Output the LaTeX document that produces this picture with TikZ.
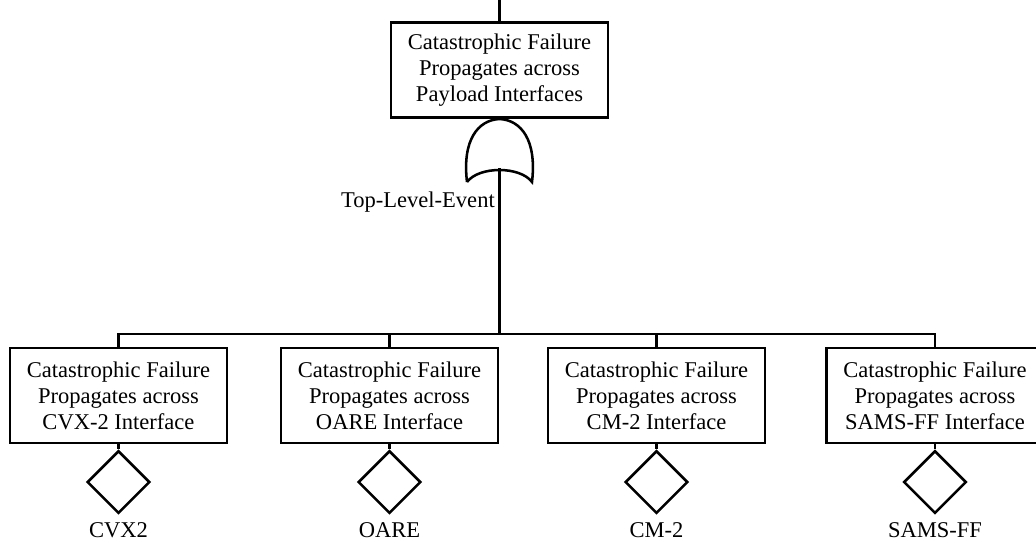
\documentclass[tikz,border=0pt]{standalone}
\usepackage{fontspec}
\setmainfont{Liberation Serif}
\usetikzlibrary{shapes.geometric}
\begin{document}
\begin{tikzpicture}[x=0.75pt,y=-0.75pt,line width=1.9pt,
  evbox/.style={draw,rectangle,minimum width=163pt,minimum height=71pt,align=center,inner sep=0pt,
    font=\fontsize{16.9}{19.5}\selectfont},
  basic/.style={draw,diamond,aspect=1,minimum size=47pt,inner sep=0pt},
  lbl/.style={inner sep=0pt,font=\fontsize{16.9}{19.5}\selectfont}]
\clip (0,0) rectangle (1036,543);
\useasboundingbox (0,0) rectangle (1036,543);
% top event
\node[evbox] (top) at (499.5,70) {Catastrophic Failure\\Propagates across\\Payload Interfaces};
\coordinate (topin) at (499.5,0);
\draw (topin) -- (top.north);
% OR gate
\coordinate (gate) at (499.5,119);
\coordinate (gatebot) at (499.5,168);
\draw (467,182) .. controls (462,140) and (478,120) .. (gate)
  .. controls (521,120) and (537,140) .. (532,182)
  .. controls (520,166) and (479,166) .. (467,182);
\node[lbl,anchor=base east] (tle) at (496,207) {Top-Level-Event};
% bus
\coordinate (bus) at (499.5,334);
\draw (gatebot) -- (bus);
% children
\node[evbox] (b1) at (118.5,395.5) {Catastrophic Failure\\Propagates across\\CVX-2 Interface};
\node[evbox] (b2) at (389.5,395.5) {Catastrophic Failure\\Propagates across\\OARE Interface};
\node[evbox] (b3) at (656.5,395.5) {Catastrophic Failure\\Propagates across\\CM-2 Interface};
\node[evbox] (b4) at (935,395.5) {Catastrophic Failure\\Propagates across\\SAMS-FF Interface};
\draw (b1.north) -- (b1.north |- bus) -- (b4.north |- bus) -- (b4.north);
\draw (b2.north) -- (b2.north |- bus);
\draw (b3.north) -- (b3.north |- bus);
% basic events
\foreach \b/\t in {b1/CVX2,b2/OARE,b3/CM-2,b4/SAMS-FF}{
  \node[basic,anchor=north] (d\b) at ([yshift=-4pt]\b.south) {};
  \draw (\b.south) -- (d\b.north);
  \node[lbl,anchor=base] (l\b) at ([yshift=-17pt]d\b.south) {\t};
}
\end{tikzpicture}
\end{document}
